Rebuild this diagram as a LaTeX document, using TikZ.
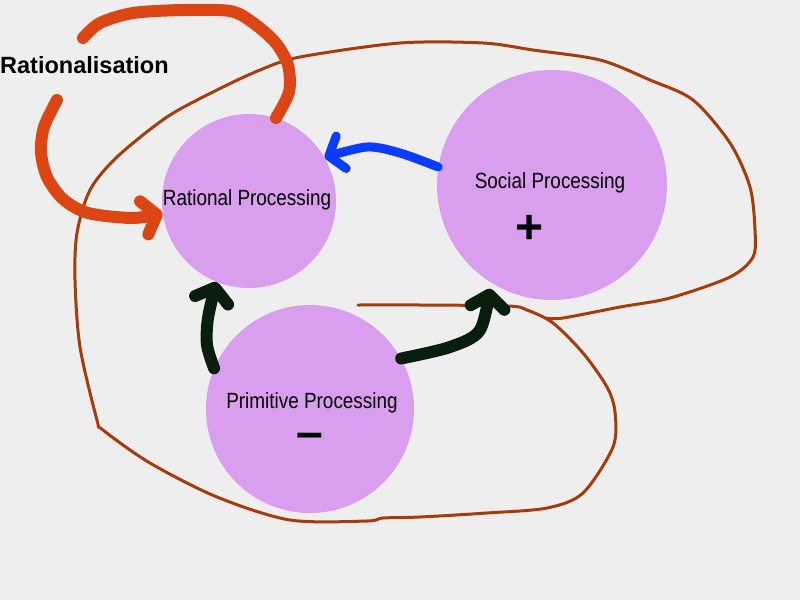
\documentclass[tikz,border=0pt]{standalone}
\usepackage{fontspec}
\setmainfont{Liberation Sans}
\newfontfamily\narrowsans{Liberation Sans}[FakeStretch=0.86]
\usetikzlibrary{arrows.meta}
\definecolor{sfondo}{RGB}{238,238,238}
\definecolor{viola}{RGB}{218,158,238}
\definecolor{marrone}{RGB}{165,60,12}
\definecolor{arancio}{RGB}{220,70,20}
\definecolor{blu}{RGB}{10,60,250}
\definecolor{scuro}{RGB}{10,30,15}

\begin{document}
\begin{tikzpicture}[
        x=1pt, y=1pt,
        proc/.style={
            circle,
            fill=viola,
            inner sep=0pt
        },
        proctext/.style={
            font=\narrowsans\fontsize{22}{26}\selectfont,
            inner sep=0pt
        },
        segno/.style={
            font=\bfseries\fontsize{48}{50}\selectfont,
            inner sep=0pt
        },
        pennello/.style={
            line width=12pt,
            line cap=round,
            line join=round,
            -{Straight Barb[round, length=13pt, width=34pt]}
        },
        tratto/.style={
            line width=12pt,
            line cap=round,
            line join=round
        }
    ]

    % sfondo
    \fill[sfondo] (0,0) rectangle (800,-600);
    \useasboundingbox (0,0) rectangle (800,-600);

    % linea marrone
    \coordinate (coda) at (358,-305);
    \draw[marrone, line width=3pt, line cap=round, line join=round]
        plot[smooth, tension=0.5] coordinates {
            (coda) (420,-305) (508,-306) (527,-310) (553,-323) (583,-353)
            (607,-387) (615,-412) (613,-447) (583,-493) (547,-508) (487,-513)
            (420,-517) (383,-518) (367,-521) (290,-520) (217,-497) (150,-463)
            (103,-430) (97,-420) (80,-347) (75,-280) (77,-233) (90,-190)
            (117,-157) (167,-117) (217,-90) (260,-70) (300,-57) (400,-43)
            (483,-43) (533,-50) (600,-60) (650,-80) (693,-100) (730,-143)
            (750,-187) (755,-230) (753,-257) (730,-277) (670,-298) (620,-307)
            (563,-318) (545,-318)};

    % cerchi
    \node[proc, minimum size=174pt] (rational) at (249,-201) {};
    \node[proc, minimum size=230pt] (social) at (552,-185) {};
    \node[proc, minimum size=208pt] (primitive) at (310,-409) {};

    % frecce
    \coordinate (rsopra) at (83,-38);
    \coordinate (rsotto) at (57,-100);
    \draw[arancio, tratto]
        plot[smooth] coordinates {(rational.72) (289,-92) (288,-65) (275,-42)
            (252,-22) (230,-11) (183,-10) (133,-13) (100,-23) (rsopra)};
    \draw[arancio, pennello]
        plot[smooth] coordinates {(rsotto) (44,-127) (41,-152) (47,-177)
            (63,-199) (88,-213) (133,-218) (rational.188)};
    \draw[blu, pennello, line width=9pt]
        plot[smooth] coordinates {(social.171) (400,-153) (367,-147) (rational.30)};
    \draw[scuro, pennello]
        plot[smooth] coordinates {(primitive.157) (207,-345) (208,-318) (rational.248)};
    \draw[scuro, pennello, shorten >=6pt]
        plot[smooth] coordinates {(primitive.29) (450,-347) (480,-330) (social.238)};

    % testi
    \node[proctext] (trational) at (247,-200) {Rational Processing};
    \node[proctext] (tsocial) at (550,-183) {Social Processing};
    \node[proctext] (tprimitive) at (312,-403) {Primitive Processing};
    \node[segno] (piu) at (530,-229) {+};
    \node[segno] (meno) at (310,-441) {–};
    \node[font=\bfseries\fontsize{23.5}{28}\selectfont, inner sep=0pt, anchor=west]
        (ration) at (0,-65) {Rationalisation};

\end{tikzpicture}
\end{document}
